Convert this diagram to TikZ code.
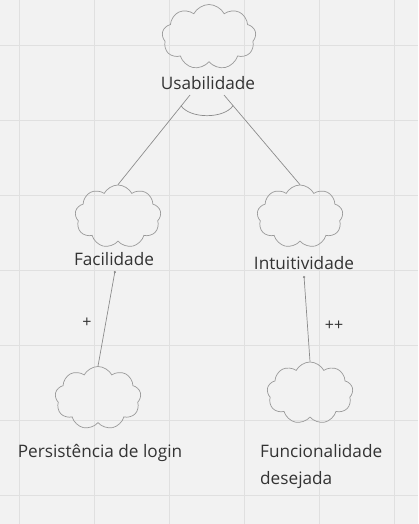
\documentclass[tikz,border=0pt]{standalone}
\usepackage{fontspec}
\setmainfont{Open Sans}
\usetikzlibrary{shapes.symbols,arrows.meta,calc}
\definecolor{bg}{HTML}{F2F2F2}
\definecolor{gridc}{HTML}{E0E0E0}
\definecolor{cloudc}{HTML}{9A9A9A}
\definecolor{linec}{HTML}{8C8C8C}
\definecolor{txt}{HTML}{333333}
\tikzset{
  gridline/.style={draw=gridc, line width=0.8pt},
  cloudbox/.style={cloud, draw=cloudc, cloud puffs=9, cloud puff arc=125, cloud ignores aspect,
    minimum width=86pt, minimum height=63pt, inner sep=0pt, line width=0.7pt},
  label/.style={text=txt, font=\fontsize{17.2}{27}\selectfont, inner sep=0pt},
  sign/.style={text=txt, font=\fontsize{16}{18}\selectfont, inner sep=0pt},
  conn/.style={draw=linec, line width=0.7pt},
  dotconn/.style={conn, -{Circle[length=2.2pt]}}
}
\begin{document}
\begin{tikzpicture}[x=1pt,y=-1pt]
\useasboundingbox (0,0) rectangle (418,524);
\fill[bg] (0,0) rectangle (418,524);
\foreach \x in {19.5,94.5,169.5,244.5,319.5,394.5} \draw[gridline] (\x,0) -- (\x,524);
\foreach \y in {45,120,195,270,345,420,495} \draw[gridline] (0,\y) -- (418,\y);

% clouds
\node[cloudbox, minimum width=94pt, minimum height=65pt] (cu) at (209,37) {};
\node[cloudbox] (cf) at (118,216.5) {};
\node[cloudbox] (ci) at (300,216.5) {};
\node[cloudbox] (cp) at (98,398) {};
\node[cloudbox, minimum height=62pt] (cd) at (310,393) {};

% labels
\node[label] (tu) at (208,83) {Usabilidade};
\node[label] (tf) at (114,259) {Facilidade};
\node[label] (ti) at (304,263) {Intuitividade};
\node[label] (tp) at (100,452.5) {Persistência de login};
\node[label, align=left, anchor=north west] (td) at (260,444) {Funcionalidade\\desejada};
\node[sign] (s1) at (87,323) {+};
\node[sign] (s2) at (334,326) {++};

% connector end points
\coordinate (ul) at (190,95);
\coordinate (ur) at (224,95);
\coordinate (fb) at (115,271);
\coordinate (ib) at (304,276);

\draw[conn] (ul) -- (cf.north);
\draw[conn] (ur) -- (ci.north);
\draw[conn] (181,105.7) .. controls (190,119) and (224,119) .. (233,105.7);
\draw[dotconn] (cp.north) -- (fb);
\draw[dotconn] (cd.north) -- (ib);
\end{tikzpicture}
\end{document}
